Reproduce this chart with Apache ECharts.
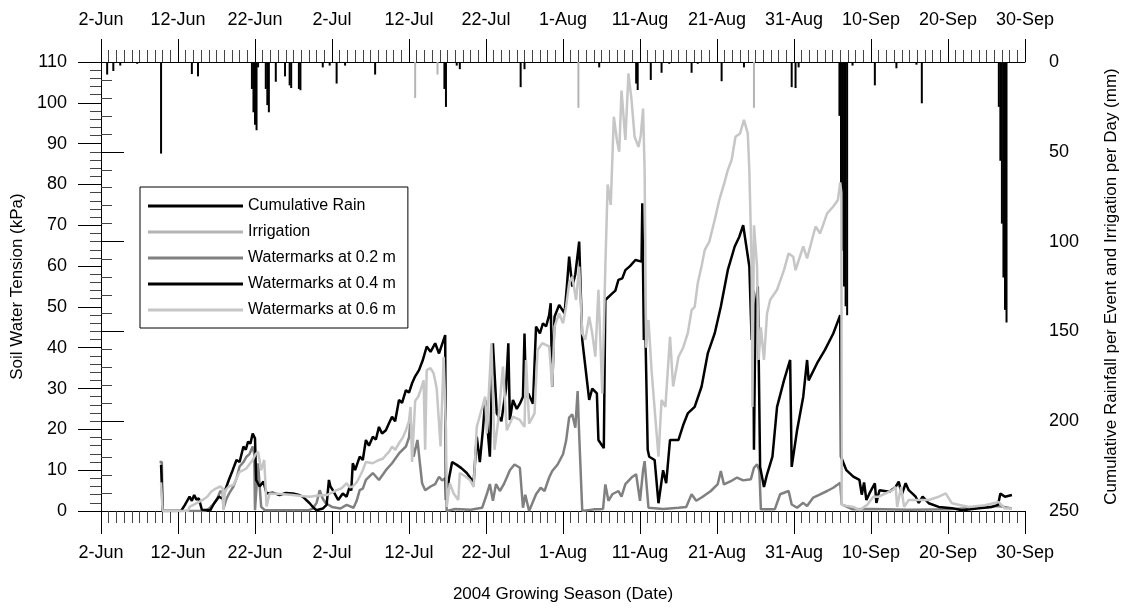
<!DOCTYPE html>
<html>
<head>
<meta charset="utf-8">
<script src="https://cdn.jsdelivr.net/npm/echarts@6/dist/echarts.min.js"></script>
<style>
  html, body { margin: 0; padding: 0; background: #fff; }
  #main { width: 1128px; height: 610px; }
</style>
</head>
<body>
<div id="main"></div>
<script>
// x values are days after 2-Jun-2004
var tickLabels = ['2-Jun', '12-Jun', '22-Jun', '2-Jul', '12-Jul', '22-Jul', '1-Aug',
  '11-Aug', '21-Aug', '31-Aug', '10-Sep', '20-Sep', '30-Sep'];

// rain per event (mm), [day, mm]
var rain = [
  [0.8, 7], [1.6, 5], [2.5, 2], [4.7, 1], [7.8, 51], [11.8, 6.7], [12.6, 8],
  [19.6, 15], [19.8, 28], [20.0, 35], [20.2, 38], [20.4, 3],
  [21.4, 15], [21.6, 24], [21.8, 28], [22.7, 11], [23.9, 8], [24.5, 13], [24.7, 14.5],
  [25.7, 15], [25.9, 15.7], [28.8, 3], [29.7, 2], [30.6, 12], [31.7, 2], [35.6, 7],
  [44.6, 15], [44.8, 25], [46.2, 2], [46.6, 4], [54.5, 14], [55.0, 4], [64.7, 3],
  [69.5, 12], [69.7, 15.6], [71.4, 10], [72.8, 6], [73.8, 1], [76.7, 6], [77.5, 1],
  [80.6, 10.7], [83.5, 3], [89.7, 14], [90.2, 14.5], [90.6, 3],
  [95.9, 30], [96.1, 70], [96.3, 105], [96.5, 125], [96.7, 136], [96.9, 141],
  [97.6, 2], [100.5, 13], [103.3, 3.5], [105.9, 1.5], [106.6, 23],
  [116.6, 25], [116.8, 55], [117.0, 90], [117.2, 120], [117.4, 138], [117.6, 145]
];

// irrigation per day (mm)
var irrigation = [[40.8, 20], [43.7, 7], [62.0, 25.5], [84.8, 25.5]];

// soil water tension (kPa)
var wm02 = [
  [7.6, 12], [7.9, 12], [8.0, 0], [13.5, 0], [14.0, 0.5], [14.7, 1.9], [15.1, 3], [15.5, 4.9],
  [15.8, 4.5], [15.9, 0.5], [16.3, 3], [16.7, 4.5], [17.2, 6], [17.6, 8], [18.0, 10.9], [18.5, 12],
  [18.9, 13.3], [19.3, 14], [19.7, 15.8], [19.9, 14], [20.0, 0.2], [20.4, 11.7], [20.8, 1],
  [21.3, 0.2], [27.0, 0.2], [27.5, 0.6], [28.0, 2], [28.4, 5.1], [28.8, 3], [29.2, 1.9], [30.0, 1],
  [31.1, 0.6], [31.9, 1.5], [32.8, 0.8], [33.2, 2.5], [33.6, 5.1], [34.0, 5.5], [34.4, 7.6],
  [35.3, 9.3], [36.1, 7.6], [37.0, 10], [37.8, 11.7], [38.7, 14.1], [39.6, 15.8], [40.0, 18],
  [40.2, 22.3], [40.6, 13.3], [41.1, 17.4], [41.4, 12], [41.7, 6.8], [42.1, 5.1], [42.8, 6],
  [43.4, 6.6], [43.9, 8.4], [44.3, 7.5], [44.7, 8], [44.9, 0], [46.0, 0.5], [48.0, 0.3],
  [49.5, 0.8], [50.1, 4.1], [50.5, 6.6], [50.9, 2.5], [51.3, 6.6], [51.8, 4.9], [52.3, 6.5],
  [52.7, 8.2], [53.1, 10], [53.7, 11.4], [54.4, 10.6], [54.8, 0.8], [55.1, 4], [55.6, 0],
  [56.5, 4.1], [57.1, 5.7], [57.6, 4.9], [58.2, 8.2], [58.6, 9.8], [59.3, 11.4], [60.0, 13.9],
  [60.4, 17.2], [60.8, 22.9], [61.2, 23.7], [61.6, 20.4], [61.9, 29.4], [62.1, 18.8], [62.5, 0],
  [64.0, 0.4], [65.2, 0.5], [65.5, 6.5], [65.9, 2.5], [66.4, 4.1], [67.2, 4.9], [67.6, 3.5],
  [68.1, 6.6], [68.9, 8.2], [69.5, 9], [70.0, 2.5], [70.4, 10], [70.6, 12.2], [71.1, 0.8],
  [73.0, 0.5], [75.0, 0.8], [76.0, 1], [76.7, 4.1], [77.3, 2.5], [78.0, 3.3], [79.2, 4.9],
  [80.1, 6.6], [80.5, 9.8], [80.9, 6.5], [81.8, 7.3], [82.6, 8.2], [83.4, 7.5], [84.4, 7.8],
  [84.8, 10.6], [85.2, 11.4], [85.5, 10], [85.7, 0.4], [87.5, 0.4], [88.2, 4.1], [89.3, 4.9],
  [89.7, 1.6], [90.4, 0.8], [91.2, 2.0], [91.7, 1.2], [92.5, 3.3], [93.4, 4.1], [94.3, 4.9],
  [95.1, 5.7], [96.0, 6.9], [96.2, 1.6], [97.6, 0.4], [100, 0.5], [105, 0.3], [110, 0.4],
  [114, 0.8], [116.6, 1.2], [118.3, 0.6]
];

var wm04 = [
  [7.8, 11.3], [7.85, 9], [8.0, 0], [10.4, 0], [10.9, 1.5], [11.5, 3.5], [11.8, 2.5], [12.1, 3.9],
  [12.4, 2.8], [12.7, 3.1], [13.1, 0.3], [14.2, 0.2], [14.7, 1.9], [15.3, 3.5], [15.8, 3],
  [16.2, 5.5], [16.6, 7.6], [17.1, 10], [17.6, 12.5], [18.0, 12], [18.5, 15.8], [18.8, 15],
  [19.1, 17], [19.4, 16.5], [19.7, 19], [20.0, 17.8], [20.15, 7.6], [20.6, 6], [21.1, 7.2],
  [21.5, 4.3], [22.3, 4.5], [23.2, 3.9], [24.0, 4.4], [24.9, 4.3], [25.6, 4.0], [26.2, 3.5],
  [27.1, 1.9], [27.6, 0.8], [28.0, 0.2], [28.8, 0.6], [29.3, 1.5], [29.6, 7.6], [29.8, 6.0],
  [30.1, 5.1], [30.8, 2.7], [31.4, 4.3], [31.9, 3.5], [32.3, 6], [32.5, 5], [32.7, 11.7],
  [33.0, 10], [33.6, 13.3], [34.0, 12.5], [34.4, 17.4], [34.8, 16], [35.3, 18.2], [35.7, 17.5],
  [36.1, 20.6], [36.5, 19], [37.0, 19.8], [37.4, 21.5], [37.8, 23.1], [38.2, 22], [38.7, 27.2],
  [39.1, 26.5], [39.6, 29.6], [40.0, 29], [40.4, 31.3], [40.8, 33], [41.3, 34.5], [41.8, 37],
  [42.3, 40.3], [42.8, 39], [43.4, 41.1], [43.9, 38.6], [44.7, 43.1], [44.8, 2.7], [45.2, 8],
  [45.6, 12], [46.2, 11.3], [46.8, 10.5], [47.5, 9.3], [48.0, 8], [48.4, 7.2], [48.8, 18.2],
  [49.2, 12], [49.6, 20], [49.9, 27.2], [50.5, 13.3], [50.9, 41.1], [51.4, 23.9], [52.0, 22],
  [52.6, 30], [52.9, 41.1], [53.1, 22.3], [53.5, 27.2], [54.0, 25], [54.4, 26.3], [54.8, 28],
  [55.0, 43.5], [55.2, 28.0], [55.5, 28.8], [56.1, 26.3], [56.5, 45.2], [57.0, 43.5],
  [57.4, 46], [57.8, 45.2], [58.2, 48], [58.4, 50.9], [58.6, 30.5], [58.9, 47.6], [59.5, 50.5],
  [60.2, 48.4], [60.5, 55], [60.8, 62.3], [61.2, 55], [61.6, 58], [62.1, 66], [62.5, 41.9],
  [62.9, 35.4], [63.4, 27.2], [63.8, 30], [64.4, 28.8], [64.6, 17.4], [65.3, 15.4], [65.5, 51.7],
  [66.4, 53.3], [66.8, 54], [67.2, 56.6], [67.7, 57], [68.1, 59], [68.7, 60], [69.4, 61.5],
  [70.2, 61.1], [70.3, 75.4], [70.5, 41.9], [70.7, 44], [71.0, 15], [71.2, 13.3], [71.9, 12.5],
  [72.4, 1.9], [73.0, 10], [73.4, 6.8], [73.9, 17.4], [75.0, 17.4], [75.6, 21], [76.2, 23.9],
  [77.1, 25.5], [78.0, 30.5], [78.8, 38.6], [79.7, 43.5], [80.5, 50.1], [81.4, 59], [82.3, 64.8],
  [82.9, 67.2], [83.4, 70], [84.2, 59.9], [84.5, 41.9], [84.7, 54], [84.8, 15], [85.0, 50.1],
  [85.3, 55], [85.6, 10.8], [86.1, 5.9], [86.5, 9], [87.2, 13.3], [87.8, 25.5], [88.7, 32],
  [89.5, 37], [89.7, 10.8], [90.4, 19.8], [91.2, 28], [91.7, 37], [91.9, 32], [93.0, 36.2],
  [94.0, 39.4], [95.1, 43.5], [96.0, 48], [96.1, 13.3], [96.8, 10], [97.7, 8.4], [98.5, 7.6],
  [98.8, 4], [99.1, 7], [99.4, 2.7], [99.8, 4.3], [100.5, 6.8], [100.7, 2], [101.1, 5.1],
  [102.4, 4.7], [103.2, 5.9], [103.6, 7.2], [104.0, 4], [104.5, 6.8], [104.9, 5.1], [105.8, 3.5],
  [106.2, 2], [106.7, 3.5], [107.5, 1.9], [108.8, 1.0], [110.5, 0.7], [111.8, 0.2], [114.0, 0.7],
  [115.7, 1.0], [116.5, 1.5], [116.8, 4.3], [117.4, 3.5], [118.3, 3.9]
];

var wm06 = [
  [7.8, 7], [8.0, 0], [11.3, 0], [11.5, 1], [12.3, 1.8], [13.2, 2.7], [13.8, 3.5], [14.3, 4.7],
  [14.9, 5.5], [15.5, 6], [15.8, 5.5], [15.9, 0.2], [16.1, 5], [16.6, 6], [17.2, 6.4], [17.6, 8],
  [18.0, 9.6], [18.5, 10], [18.9, 10.5], [19.3, 11.5], [19.7, 12.5], [20.1, 14], [20.4, 14.5],
  [20.8, 10], [21.2, 12.5], [21.5, 1.1], [21.9, 4.3], [23.0, 4.2], [24.9, 3.9], [26.0, 3.7],
  [27.1, 3.5], [28.2, 3.8], [29.3, 3.9], [30.0, 4.5], [30.6, 5.1], [31.2, 5.5], [31.9, 6.8],
  [32.3, 5.8], [32.7, 6], [33.2, 7], [33.6, 8.4], [34.0, 10], [34.4, 12], [35.3, 11.7],
  [36.1, 12.5], [36.6, 12.8], [37.0, 13.7], [37.4, 14.5], [37.8, 15.8], [38.2, 15], [38.7, 16.6],
  [39.2, 18], [39.6, 19.8], [40.0, 22], [40.2, 25.5], [40.4, 12], [40.8, 27], [41.2, 28],
  [41.5, 29.6], [41.9, 32], [42.1, 15], [42.3, 34.5], [42.8, 35], [43.2, 33.7], [43.6, 30],
  [44.1, 15.8], [44.5, 37.8], [44.8, 20], [44.9, 1], [45.3, 6.8], [45.8, 4.3], [46.4, 2.7],
  [46.6, 9.3], [47.3, 8.5], [47.9, 7.6], [48.4, 5.9], [48.8, 20.6], [49.3, 24], [49.9, 28],
  [50.1, 19], [50.7, 41.1], [51.1, 15], [51.6, 22.3], [52.2, 35.4], [52.7, 19.8], [53.5, 23.1],
  [54.4, 22.3], [55.0, 20.6], [55.2, 37], [55.6, 21.4], [56.3, 23.9], [56.7, 39.4], [57.3, 41.1],
  [58.2, 40.3], [58.6, 30.5], [58.9, 45.2], [59.5, 48.4], [60.0, 46], [60.4, 50], [60.8, 55.8],
  [61.2, 57.4], [61.7, 51.7], [62.1, 59.9], [62.5, 43.5], [62.9, 42], [63.4, 47.6], [63.8, 43.5],
  [64.2, 37.8], [64.6, 54.2], [65.1, 28.8], [65.5, 60], [65.8, 80], [66.2, 75], [66.6, 96.6],
  [67.0, 90.9], [67.3, 88], [67.6, 103], [68.1, 90.9], [68.5, 107.2], [68.9, 100.7], [69.3, 91.7],
  [69.8, 89.2], [70.1, 92], [70.4, 98.6], [70.6, 83.5], [70.8, 40], [71.1, 46.8], [71.5, 34.5],
  [71.9, 25], [72.4, 13.3], [72.8, 27.2], [73.3, 25.5], [73.9, 42.7], [74.3, 30.5], [75.0, 37.8],
  [75.6, 40], [76.2, 43.5], [76.7, 49.2], [77.1, 50], [77.5, 55.8], [78.0, 60], [78.4, 63.9],
  [79.0, 66], [79.7, 71.3], [80.3, 76.2], [80.9, 80], [81.4, 83.5], [81.9, 86], [82.4, 91.7],
  [83.0, 92.5], [83.5, 95.8], [84.0, 92.5], [84.2, 83.5], [84.5, 60], [84.6, 25.5], [84.8, 70],
  [85.2, 60], [85.4, 37], [85.7, 45], [86.1, 37], [86.5, 48.4], [86.9, 51.7], [87.8, 54.2],
  [88.7, 59], [89.3, 63.1], [89.9, 62.3], [90.2, 59], [91.2, 64.8], [91.7, 61.9], [92.8, 69.7],
  [93.4, 68], [94.3, 72.9], [95.1, 74.6], [95.7, 76.2], [96.0, 80.5], [96.15, 78], [96.2, 1.5],
  [97.0, 1.2], [97.7, 1], [98.5, 0.2], [99.5, 1.5], [100.3, 3.5], [101.0, 3.5], [101.9, 4.3],
  [102.8, 5.1], [103.2, 5.9], [103.4, 1], [103.9, 5.9], [104.3, 1], [104.9, 2.7], [106.2, 2.7],
  [107.5, 2.7], [108.8, 3.5], [109.7, 4.3], [110.5, 1.9], [112.7, 1.0], [114.8, 1.4],
  [116.6, 2.2], [117.4, 0.6], [118.3, 0.6]
];

var chartDom = document.getElementById('main');
var myChart = echarts.init(chartDom);
var option;

var font = 'Liberation Sans, Arial, sans-serif';
// thin stripe icon, bounding box kept by the two dots
var stripe = 'path://M0,0L0.01,0M0,5.5L95,5.5L95,8.5L0,8.5ZM95,14L95.01,14';

function dateAxis(pos) {
  return {
    type: 'value',
    position: pos,
    min: 0,
    max: 120,
    interval: 10,
    axisLine: { show: true, onZero: false, lineStyle: { color: '#000', width: 1 } },
    axisTick: { show: true, length: 23, lineStyle: { color: '#000' } },
    minorTick: { show: true, splitNumber: 10, length: 12, lineStyle: { color: '#444' } },
    splitLine: { show: false },
    axisLabel: {
      margin: 33, color: '#000', fontSize: 18, fontFamily: font,
      formatter: function (v) { return tickLabels[Math.round(v / 10)]; }
    }
  };
}

var xBottom = dateAxis('bottom');
xBottom.name = '2004 Growing Season (Date)';
xBottom.nameLocation = 'middle';
xBottom.nameGap = 75;
xBottom.nameTextStyle = { color: '#000', fontSize: 17, fontFamily: font };

option = {
  animation: false,
  backgroundColor: '#fff',
  grid: { left: 101, right: 95, top: 62, bottom: 99 },
  legend: {
    orient: 'vertical',
    left: 140,
    top: 187,
    itemWidth: 95,
    itemHeight: 14,
    itemGap: 10,
    padding: [11, 12, 10, 8],
    borderColor: '#000',
    borderWidth: 1,
    backgroundColor: '#fff',
    textStyle: { color: '#000', fontSize: 16, fontFamily: font },
    data: [
      { name: 'Cumulative Rain', icon: stripe },
      { name: 'Irrigation', icon: stripe },
      { name: 'Watermarks at 0.2 m', icon: stripe },
      { name: 'Watermarks at 0.4 m', icon: stripe },
      { name: 'Watermarks at 0.6 m', icon: stripe }
    ]
  },
  xAxis: [xBottom, dateAxis('top')],
  yAxis: [
    {
      type: 'value',
      position: 'left',
      min: 0,
      max: 110,
      interval: 10,
      name: 'Soil Water Tension (kPa)',
      nameLocation: 'middle',
      nameGap: 70,
      nameTextStyle: { color: '#000', fontSize: 17, fontFamily: font },
      axisLine: { show: true, lineStyle: { color: '#000' } },
      axisTick: { show: true, length: 23, lineStyle: { color: '#000' } },
      minorTick: { show: true, splitNumber: 5, length: 11, lineStyle: { color: '#444' } },
      splitLine: { show: false },
      axisLabel: { margin: 34, color: '#000', fontSize: 18, fontFamily: font }
    },
    {
      type: 'value',
      position: 'right',
      min: 0,
      max: 250,
      interval: 50,
      inverse: true,
      name: 'Cumulative Rainfall per Event and Irrigation per Day (mm)',
      nameLocation: 'middle',
      nameGap: 78,
      nameRotate: 90,
      nameTextStyle: { color: '#000', fontSize: 17, fontFamily: font },
      axisLine: { show: true, lineStyle: { color: '#000' } },
      axisTick: { show: true, length: 23, lineStyle: { color: '#000' } },
      minorTick: { show: true, splitNumber: 5, length: 11, lineStyle: { color: '#444' } },
      splitLine: { show: false },
      axisLabel: { margin: 24, color: '#000', fontSize: 18, fontFamily: font }
    }
  ],
  series: [
    {
      name: 'Cumulative Rain',
      type: 'bar',
      xAxisIndex: 0,
      yAxisIndex: 1,
      barWidth: 2,
      barGap: '-100%',
      color: '#000',
      data: rain
    },
    {
      name: 'Irrigation',
      type: 'bar',
      xAxisIndex: 0,
      yAxisIndex: 1,
      barWidth: 2,
      barGap: '-100%',
      color: '#b4b4b4',
      data: irrigation
    },
    {
      name: 'Watermarks at 0.2 m',
      type: 'line',
      symbol: 'none',
      color: '#808080',
      lineStyle: { width: 2.5, color: '#808080' },
      data: wm02
    },
    {
      name: 'Watermarks at 0.4 m',
      type: 'line',
      symbol: 'none',
      color: '#000',
      lineStyle: { width: 2.5, color: '#000' },
      data: wm04
    },
    {
      name: 'Watermarks at 0.6 m',
      type: 'line',
      symbol: 'none',
      color: '#c6c6c6',
      lineStyle: { width: 2.5, color: '#c6c6c6' },
      data: wm06
    }
  ]
};

option && myChart.setOption(option);
</script>
</body>
</html>
